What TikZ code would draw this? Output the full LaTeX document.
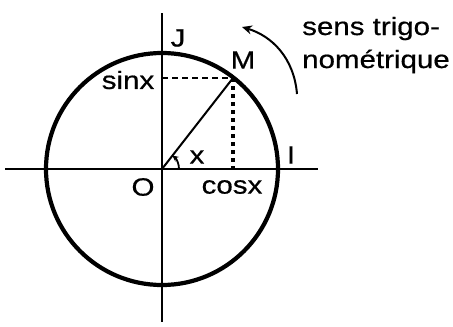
\documentclass[tikz,border=0pt]{standalone}
\usepackage{fontspec}
\setmainfont[FakeStretch=1.18,FakeBold=0.6]{Liberation Sans}
\usetikzlibrary{arrows.meta,calc}
\begin{document}
\begin{tikzpicture}[x=1pt,y=-1pt,
  lbl/.style={font=\fontsize{25}{25}\selectfont, inner sep=0pt},
  axis/.style={line width=2pt},
  thickcircle/.style={line width=4.2pt},
  dashline/.style={line width=2.6pt, dash pattern=on 6pt off 4pt},
  dotline/.style={line width=3.4pt, dash pattern=on 4pt off 4pt}]
\useasboundingbox (0,0) rectangle (453,327);
\coordinate (O) at (162,169);
\coordinate (M) at (233,78);
\coordinate (xl) at (5,169);
\coordinate (xr) at (318,169);
\coordinate (yt) at (162,13);
\coordinate (yb) at (162,322);
\coordinate (S) at (162,78);
\coordinate (C) at (233,169);
\coordinate (A0) at (179,169);
\coordinate (T1) at (297,94);
\coordinate (T2) at (242,27);
\draw[thickcircle] (O) circle[radius=116];
\draw[axis] (xl) -- (xr);
\draw[axis] (yt) -- (yb);
\draw[line width=2pt] (O) -- (M);
\draw[dashline] (S) -- (M);
\draw[dotline] (M) -- (C);
\draw[line width=1.8pt, -{Stealth[length=6pt,width=6pt]}] (A0) arc[start angle=0, end angle=-52, radius=17];
\draw[line width=2pt, -{Stealth[length=10pt,width=9pt]}] (T1) .. controls (294,58) and (272,36) .. (T2);
\node[lbl] (J) at (178,38) {J};
\node[lbl] (Ml) at (243,60) {M};
\node[lbl] (sin) at (128,80) {sinx};
\node[lbl] (I) at (291,155) {I};
\node[lbl] (Ol) at (143,187) {O};
\node[lbl] (cos) at (232,187) {cosx};
\node[lbl] (xa) at (197,157) {x};
\node[lbl, anchor=base west] (t1) at (302,35) {sens trigo-};
\node[lbl, anchor=base west] (t2) at (302,68) {nométrique};
\end{tikzpicture}
\end{document}
